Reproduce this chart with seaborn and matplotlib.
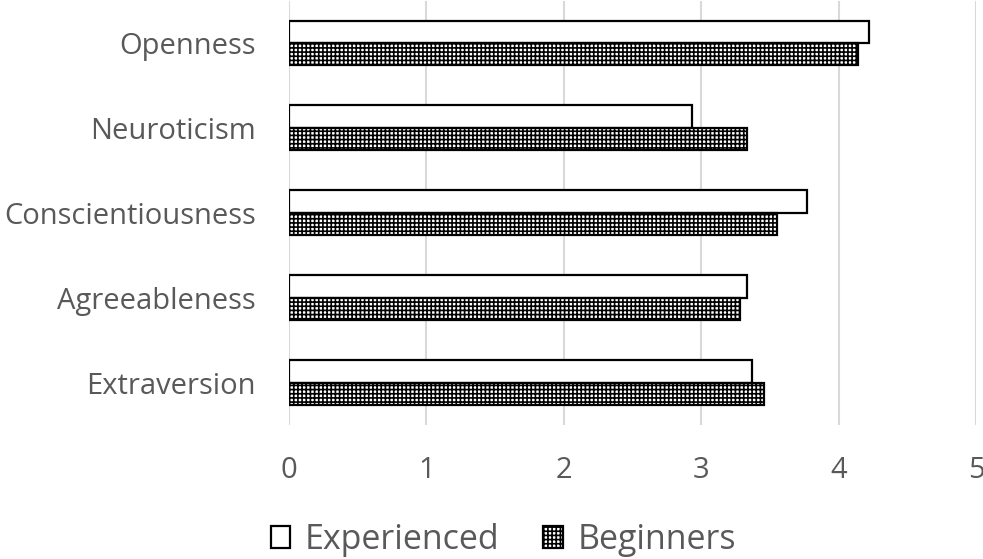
import matplotlib
matplotlib.use("Agg")
import matplotlib.pyplot as plt
import seaborn as sns
import pandas as pd
import numpy as np
from matplotlib.patches import Patch

traits = ["Openness", "Neuroticism", "Conscientiousness", "Agreeableness", "Extraversion"]
experienced = [4.22, 2.93, 3.77, 3.33, 3.37]
beginners = [4.14, 3.33, 3.55, 3.28, 3.46]
groups = ["Experienced", "Beginners"]
x_ticks = [0, 1, 2, 3, 4, 5]

df = pd.DataFrame({
    "trait": traits * 2,
    "group": [groups[0]] * len(traits) + [groups[1]] * len(traits),
    "score": experienced + beginners,
})

sns.set_theme(style="white")
plt.rcParams["font.family"] = ["Open Sans", "DejaVu Sans"]
plt.rcParams["hatch.linewidth"] = 1.2

TEXT = "#595959"
GRID = "#d9d9d9"
FS = 21.0

fig = plt.figure(figsize=(9.83, 5.59), dpi=100)
ax = fig.add_axes([0.294, 0.2397, 0.699, 0.7593])

sns.barplot(data=df, y="trait", x="score", hue="group", order=traits,
            hue_order=groups, palette=["white", "white"], orient="h",
            width=0.53, edgecolor="black", linewidth=1.6, ax=ax,
            legend=False, zorder=3)

for p in ax.containers[1]:
    p.set_hatch("++++")

ax.set_xlim(0, 5)
ax.set_ylim(len(traits) - 0.5, -0.5)
ax.set_xticks(x_ticks)
ax.set_xticklabels([str(t) for t in x_ticks])
ax.grid(axis="x", color=GRID, linewidth=1.5, zorder=0)
ax.grid(axis="y", visible=False)
for s in ax.spines.values():
    s.set_visible(False)
ax.tick_params(axis="x", length=0, pad=22, labelsize=FS, labelcolor=TEXT)
ax.tick_params(axis="y", length=0, pad=24, labelsize=FS, labelcolor=TEXT)
ax.set_xlabel("")
ax.set_ylabel("")

handles = [Patch(facecolor="white", edgecolor="black", linewidth=1.6, label=groups[0]),
           Patch(facecolor="white", edgecolor="black", linewidth=1.6, hatch="++++", label=groups[1])]
leg = fig.legend(handles=handles, loc="center", bbox_to_anchor=(0.512, 0.034), ncol=2,
                 frameon=False, fontsize=24.5, handlelength=0.58, handleheight=0.58,
                 handletextpad=0.42, columnspacing=1.3)
for t in leg.get_texts():
    t.set_color(TEXT)

fig.savefig("out.png", dpi=100, facecolor="white")
